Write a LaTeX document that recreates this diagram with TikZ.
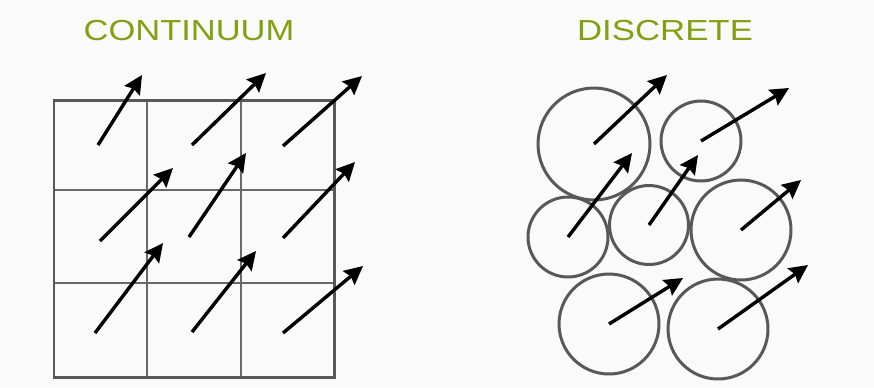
\documentclass[tikz,border=0pt]{standalone}
\usepackage{fontspec}
\setmainfont{Liberation Sans}
\usepackage{xcolor}
\usetikzlibrary{arrows.meta}
\definecolor{titlegreen}{RGB}{130,160,18}
\definecolor{framegray}{RGB}{88,88,88}
\definecolor{bggray}{RGB}{250,250,250}

\begin{document}
\begin{tikzpicture}[
  x=0.02cm, y=-0.02cm,
  title/.style={text=titlegreen, inner sep=0pt,
                font=\fontsize{16.5}{16.5}\selectfont},
  frame/.style={draw=framegray, line width=1.7pt},
  cellline/.style={draw=framegray!90, line width=0.8pt},
  grain/.style={circle, draw=framegray, line width=1.7pt, inner sep=0pt},
  vec/.style={-{Stealth[length=3.7mm, width=3.6mm, inset=0.5mm]},
              line width=1.95pt, black},
]
% background and size
\fill[bggray] (0,0) rectangle (874,387);

% titles
\node[title] (cont) at (189,31) {\scalebox{1.19}[1]{CONTINUUM}};
\node[title] (disc) at (665,31) {\scalebox{1.2}[1]{DISCRETE}};

% continuum: grid of cells
\draw[cellline] (147,100) -- (147,377) (241,100) -- (241,377)
                (54,190) -- (334,190) (54,283) -- (334,283);
\draw[frame] (54,100) rectangle (334,377);

\foreach \tx/\ty/\hx/\hy [count=\i] in {
   98/145/142/75, 192/145/266/73, 283/146/362/76,
  100/241/173/168, 189/237/246/153, 283/238/355/162,
   95/333/163/243, 192/332/256/251, 283/333/363/266} {
  \coordinate (t\i) at (\tx,\ty);
  \coordinate (h\i) at (\hx,\hy);
  \draw[vec] (t\i) -- (h\i);
}

% discrete: grains
\foreach \cx/\cy/\r [count=\i] in {
  594/144/56, 701/141/40, 568/237/40, 649/225/39.5,
  741/230/50, 609/324/50, 718/329/50} {
  \node[grain, minimum size=\r*0.04cm] (g\i) at (\cx,\cy) {};
}

\foreach \hx/\hy [count=\i] in {
  667/75, 789/88, 632/153, 698/155, 801/180, 683/278, 808/265} {
  \coordinate (e\i) at (\hx,\hy);
  \draw[vec] (g\i.center) -- (e\i);
}
\end{tikzpicture}
\end{document}
